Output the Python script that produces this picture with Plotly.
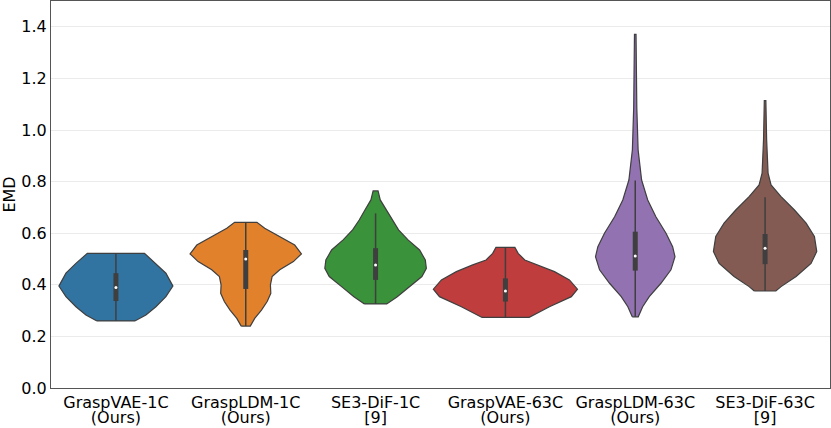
import plotly.graph_objects as go

rotulos_1 = ["GraspVAE-1C", "GraspLDM-1C", "SE3-DiF-1C", "GraspVAE-63C", "GraspLDM-63C", "SE3-DiF-63C"]
rotulos_2 = ["(Ours)", "(Ours)", "[9]", "(Ours)", "(Ours)", "[9]"]
cores = ["#3274a1", "#e1812c", "#3a923a", "#c03d3e", "#9372b2", "#845b53"]

# perfis de densidade: nivel de EMD e meia-largura (unidades de categoria)
vae1_y = [0.26, 0.283, 0.315, 0.354, 0.395, 0.445, 0.483, 0.522]
vae1_w = [0.146, 0.231, 0.308, 0.385, 0.439, 0.385, 0.308, 0.220]
ldm1_y = [0.240, 0.27, 0.302, 0.335, 0.367, 0.40, 0.432, 0.458, 0.49, 0.52, 0.554, 0.587, 0.619, 0.642]
ldm1_w = [0.035, 0.069, 0.121, 0.165, 0.193, 0.190, 0.203, 0.262, 0.367, 0.429, 0.377, 0.262, 0.146, 0.086]
dif1_y = [0.326, 0.354, 0.393, 0.432, 0.464, 0.496, 0.535, 0.574, 0.613, 0.651, 0.69, 0.729, 0.764]
dif1_w = [0.086, 0.167, 0.262, 0.357, 0.391, 0.383, 0.339, 0.250, 0.177, 0.126, 0.082, 0.036, 0.019]
vae63_y = [0.274, 0.315, 0.354, 0.383, 0.419, 0.451, 0.477, 0.496, 0.522, 0.545]
vae63_w = [0.183, 0.339, 0.508, 0.555, 0.493, 0.378, 0.252, 0.149, 0.098, 0.073]
ldm63_y = [0.276, 0.315, 0.354, 0.406, 0.458, 0.509, 0.548, 0.60, 0.664, 0.729, 0.806, 0.923, 1.086, 1.25, 1.371]
ldm63_w = [0.023, 0.057, 0.108, 0.198, 0.275, 0.306, 0.288, 0.237, 0.159, 0.096, 0.049, 0.022, 0.012, 0.008, 0.006]
dif63_y = [0.376, 0.393, 0.432, 0.483, 0.529, 0.587, 0.639, 0.69, 0.742, 0.787, 0.833, 0.962, 1.114]
dif63_w = [0.083, 0.123, 0.239, 0.354, 0.398, 0.380, 0.316, 0.226, 0.123, 0.046, 0.023, 0.012, 0.006]

# caixa interna: bigode inferior, Q1, mediana, Q3, bigode superior
bigode_inf = [0.26, 0.24, 0.326, 0.274, 0.276, 0.376]
q1 = [0.337, 0.384, 0.419, 0.335, 0.455, 0.48]
mediana = [0.39, 0.50, 0.477, 0.376, 0.512, 0.542]
q3 = [0.445, 0.535, 0.542, 0.425, 0.606, 0.597]
bigode_sup = [0.522, 0.642, 0.677, 0.545, 0.804, 0.739]

perfis = [(vae1_y, vae1_w), (ldm1_y, ldm1_w), (dif1_y, dif1_w),
          (vae63_y, vae63_w), (ldm63_y, ldm63_w), (dif63_y, dif63_w)]

fig = go.Figure()

for i, (ys, ws) in enumerate(perfis):
    xs = [i - w for w in ws] + [i + w for w in ws[::-1]]
    yy = list(ys) + list(ys[::-1])
    fig.add_trace(go.Scatter(
        x=xs + [xs[0]], y=yy + [yy[0]], mode='lines', fill='toself',
        fillcolor=cores[i], line=dict(color='#3f3f3f', width=1.2),
        showlegend=False, hoverinfo='skip'
    ))
    fig.add_trace(go.Scatter(
        x=[i, i], y=[bigode_inf[i], bigode_sup[i]], mode='lines',
        line=dict(color='#3f3f3f', width=1.5), showlegend=False, hoverinfo='skip'
    ))
    fig.add_trace(go.Scatter(
        x=[i, i], y=[q1[i], q3[i]], mode='lines',
        line=dict(color='#3f3f3f', width=5), showlegend=False, hoverinfo='skip'
    ))
    fig.add_trace(go.Scatter(
        x=[i], y=[mediana[i]], mode='markers',
        marker=dict(color='white', size=3, line=dict(width=0)),
        showlegend=False, hoverinfo='skip'
    ))

# traco invisivel so para o segundo eixo x (segunda linha dos rotulos)
fig.add_trace(go.Scatter(x=[0], y=[0], xaxis='x2', mode='markers', opacity=0,
                         showlegend=False, hoverinfo='skip'))

fig.update_layout(
    width=831, height=428,
    margin=dict(l=51, r=1, t=1, b=40),
    plot_bgcolor='white', paper_bgcolor='white',
    font=dict(family='DejaVu Sans', size=16, color='black'),
    xaxis=dict(
        range=[-0.5, 5.5], tickvals=list(range(6)), ticktext=rotulos_1,
        showgrid=False, zeroline=False, showline=True, mirror=True,
        linecolor='#555555', linewidth=1, automargin=False,
        ticks='', ticklabelstandoff=0, tickfont=dict(size=16)
    ),
    xaxis2=dict(
        overlaying='x', anchor='y', side='bottom', range=[-0.5, 5.5],
        tickvals=list(range(6)), ticktext=rotulos_2, showgrid=False,
        zeroline=False, showline=False, ticks='', automargin=False,
        ticklabelstandoff=18, tickfont=dict(size=16)
    ),
    yaxis=dict(
        range=[0, 1.5], tickvals=[0, 0.2, 0.4, 0.6, 0.8, 1.0, 1.2, 1.4],
        ticktext=['0.0', '0.2', '0.4', '0.6', '0.8', '1.0', '1.2', '1.4'],
        showgrid=True, gridcolor='#ebebeb', gridwidth=1, zeroline=False,
        showline=True, mirror=True, linecolor='#555555', linewidth=1,
        automargin=False, ticks='', tickfont=dict(size=16),
        title=dict(text='EMD', font=dict(size=16), standoff=6)
    ),
)

# tira a margem padrao do body para o grafico ocupar a janela inteira
fig.write_html("out.html", config={'displayModeBar': False},
               post_script="document.body.style.margin='0';document.body.style.overflow='hidden';")
